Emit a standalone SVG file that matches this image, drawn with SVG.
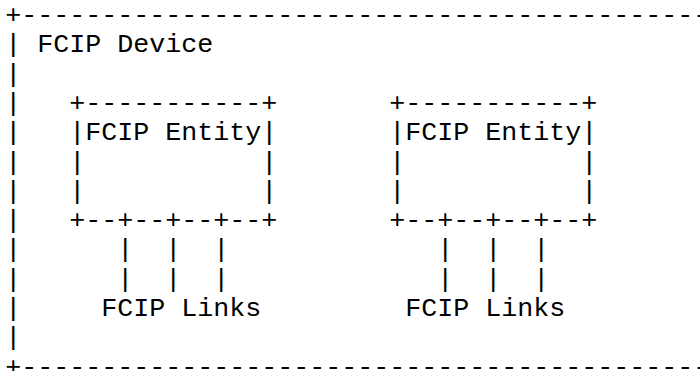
<svg xmlns="http://www.w3.org/2000/svg" width="700" height="371" viewBox="0 0 700 371">
<style>
text { font-family: "Liberation Mono", "Courier New", monospace; font-size: 26.67px; fill: #000; white-space: pre; }
</style>
<rect x="0" y="0" width="700" height="371" fill="#fff"/>
<g id="fcip-device" xml:space="preserve">
<text x="5.3" y="23">+---------------------------------------------</text>
<text x="5.3" y="52.3">|</text>
<text x="5.3" y="81.6">|</text>
<text x="5.3" y="110.9">|</text>
<text x="5.3" y="140.2">|</text>
<text x="5.3" y="169.5">|</text>
<text x="5.3" y="198.8">|</text>
<text x="5.3" y="228.1">|</text>
<text x="5.3" y="257.4">|</text>
<text x="5.3" y="286.7">|</text>
<text x="5.3" y="316">|</text>
<text x="5.3" y="345.3">|</text>
<text x="5.3" y="374.6">+---------------------------------------------</text>
<text x="37.3" y="52.3">FCIP Device</text>
</g>
<g id="entity-1" xml:space="preserve">
<text x="69.3" y="110.9">+-----------+</text>
<text x="69.3" y="140.2">|FCIP Entity|</text>
<text x="69.3" y="169.5">|           |</text>
<text x="69.3" y="198.8">|           |</text>
<text x="69.3" y="228.1">+--+--+--+--+</text>
</g>
<g id="entity-2" xml:space="preserve">
<text x="389.3" y="110.9">+-----------+</text>
<text x="389.3" y="140.2">|FCIP Entity|</text>
<text x="389.3" y="169.5">|           |</text>
<text x="389.3" y="198.8">|           |</text>
<text x="389.3" y="228.1">+--+--+--+--+</text>
</g>
<g id="connectors" xml:space="preserve">
<text x="117.3" y="257.4">|  |  |</text>
<text x="117.3" y="286.7">|  |  |</text>
<text x="437.3" y="257.4">|  |  |</text>
<text x="437.3" y="286.7">|  |  |</text>
</g>
<g id="links-1-label" xml:space="preserve">
<text x="101.3" y="316">FCIP Links</text>
</g>
<g id="links-2-label" xml:space="preserve">
<text x="405.3" y="316">FCIP Links</text>
</g>
</svg>
